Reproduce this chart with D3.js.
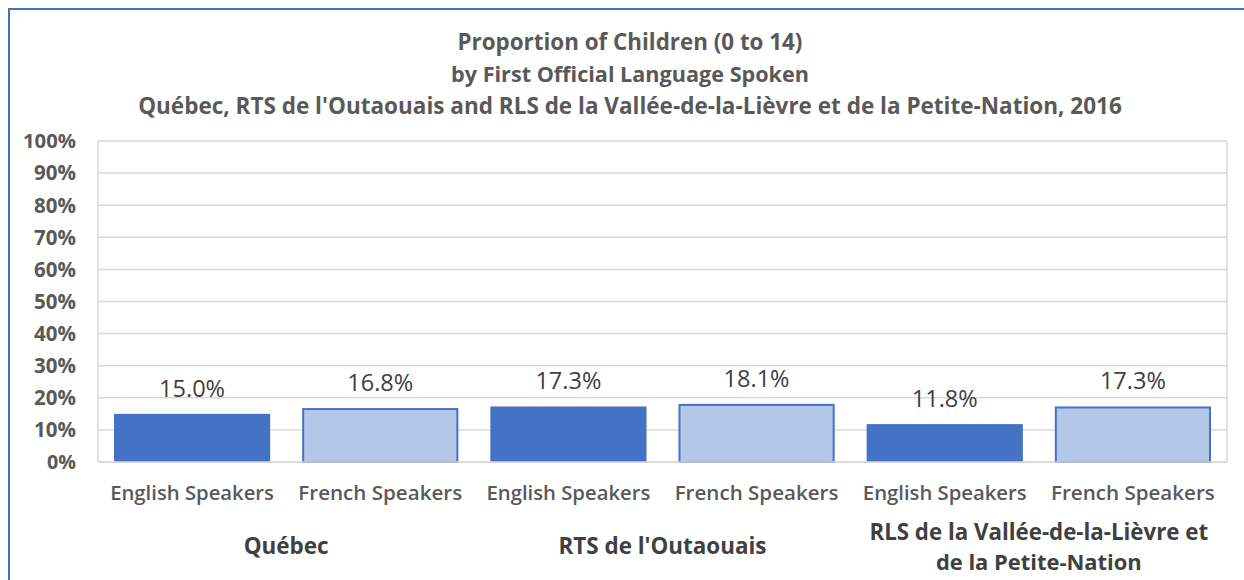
<!DOCTYPE html>
<html>
<head>
<meta charset="utf-8">
<script src="https://cdn.jsdelivr.net/npm/d3@7"></script>
<style>
  body { margin: 0; background: #fff; }
  svg text { font-family: "Open Sans", "Noto Sans", sans-serif; }
</style>
</head>
<body>
<svg id="chart" width="1244" height="580"></svg>
<script>
// chart data
const titleLines = [
  "Proportion of Children (0 to 14)",
  "by First Official Language Spoken",
  "Québec, RTS de l'Outaouais and RLS de la Vallée-de-la-Lièvre et de la Petite-Nation, 2016"
];
const regions = [["Québec"], ["RTS de l'Outaouais"], ["RLS de la Vallée-de-la-Lièvre et", "de la Petite-Nation"]];
const languages = ["English Speakers", "French Speakers"];
const values = [15.0, 16.8, 17.3, 18.1, 11.8, 17.3];
const yTicks = [0, 10, 20, 30, 40, 50, 60, 70, 80, 90, 100];

const rows = [];
regions.forEach((r, i) => languages.forEach((l, j) => rows.push({region: i, lang: l, key: i + "-" + j, value: values[i * 2 + j]})));

const svg = d3.select("#chart");

// squeeze text to a width
function fit(sel, w) {
  sel.each(function(d, i) {
    const target = typeof w === "function" ? w(d, i) : w;
    const len = this.getComputedTextLength();
    const fs = parseFloat(d3.select(this).attr("font-size"));
    d3.select(this).attr("font-size", fs * target / len);
  });
}

// outer frame
svg.append("rect")
  .attr("x", 9).attr("y", 9).attr("width", 1250).attr("height", 600)
  .attr("fill", "none").attr("stroke", "#4472C4").attr("stroke-width", 2);

const pLeft = 98, pRight = 1227, pTop = 141, pBottom = 462;

const x = d3.scaleBand().domain(rows.map(d => d.key)).range([pLeft, pRight]).paddingInner(0.17).paddingOuter(0.085);
const y = d3.scaleLinear().domain([0, 100]).range([pBottom, pTop]);

// gridlines
svg.append("g").selectAll("line").data(yTicks).join("line")
  .attr("x1", pLeft).attr("x2", pRight)
  .attr("y1", d => y(d)).attr("y2", d => y(d))
  .attr("stroke", "#d9d9d9").attr("stroke-width", 1.5);
svg.append("line").attr("x1", pLeft).attr("x2", pLeft).attr("y1", pTop).attr("y2", pBottom)
  .attr("stroke", "#d9d9d9").attr("stroke-width", 1.5);
svg.append("line").attr("x1", pRight).attr("x2", pRight).attr("y1", pTop).attr("y2", pBottom)
  .attr("stroke", "#d9d9d9").attr("stroke-width", 1.5);

// y axis labels
svg.append("g").selectAll("text").data(yTicks).join("text")
  .attr("x", 76).attr("y", d => y(d)).attr("dy", "0.36em")
  .attr("text-anchor", "end").attr("font-size", 17).attr("font-weight", "bold")
  .attr("fill", "#595959").text(d => d + "%")
  .call(fit, d => d === 100 ? 53 : d === 0 ? 29 : 42);

// bars
svg.append("g").selectAll("rect").data(rows).join("rect")
  .attr("x", d => x(d.key) + (d.lang === languages[1] ? 1 : 0))
  .attr("width", d => x.bandwidth() - (d.lang === languages[1] ? 2 : 0))
  .attr("y", d => y(d.value) + (d.lang === languages[1] ? 1 : 0))
  .attr("height", d => y(0) - y(d.value) - (d.lang === languages[1] ? 1 : 0))
  .attr("fill", d => d.lang === languages[0] ? "#4472C4" : "#B4C7E7")
  .attr("stroke", d => d.lang === languages[0] ? "none" : "#4472C4")
  .attr("stroke-width", 2);

// bottom axis line
svg.append("line").attr("x1", pLeft).attr("x2", pRight).attr("y1", pBottom).attr("y2", pBottom)
  .attr("stroke", "#d9d9d9").attr("stroke-width", 1.5);

// value labels
svg.append("g").selectAll("text").data(rows).join("text")
  .attr("x", d => x(d.key) + x.bandwidth() / 2)
  .attr("y", d => y(d.value) - 17)
  .attr("text-anchor", "middle").attr("font-size", 20)
  .attr("fill", "#404040").text(d => d.value.toFixed(1) + "%")
  .call(fit, 66);

// category labels
svg.append("g").selectAll("text").data(rows).join("text")
  .attr("x", d => x(d.key) + x.bandwidth() / 2)
  .attr("y", 500)
  .attr("text-anchor", "middle").attr("font-size", 18).attr("font-weight", 600)
  .attr("fill", "#595959").text(d => d.lang)
  .call(fit, 164);

// region labels, widths
const regionW = [[85], [208], [339, 206]];
const band = (pRight - pLeft) / regions.length;
regions.forEach((r, i) => {
  const cx = pLeft + band * (i + 0.5);
  const y0 = r.length === 1 ? 554 : 540;
  r.forEach((line, k) => {
    svg.append("text")
      .attr("x", cx).attr("y", y0 + k * 30)
      .attr("text-anchor", "middle").attr("font-size", 19).attr("font-weight", "bold")
      .attr("fill", "#404040").text(line)
      .call(fit, regionW[i][k]);
  });
});

// title, widths
const titleW = [345, 358, 984];
svg.append("g").selectAll("text").data(titleLines).join("text")
  .attr("x", 630).attr("y", (d, i) => 50 + i * 32)
  .attr("text-anchor", "middle").attr("font-size", 19).attr("font-weight", "bold")
  .attr("fill", "#595959").text(d => d)
  .call(fit, (d, i) => titleW[i]);
</script>
</body>
</html>
